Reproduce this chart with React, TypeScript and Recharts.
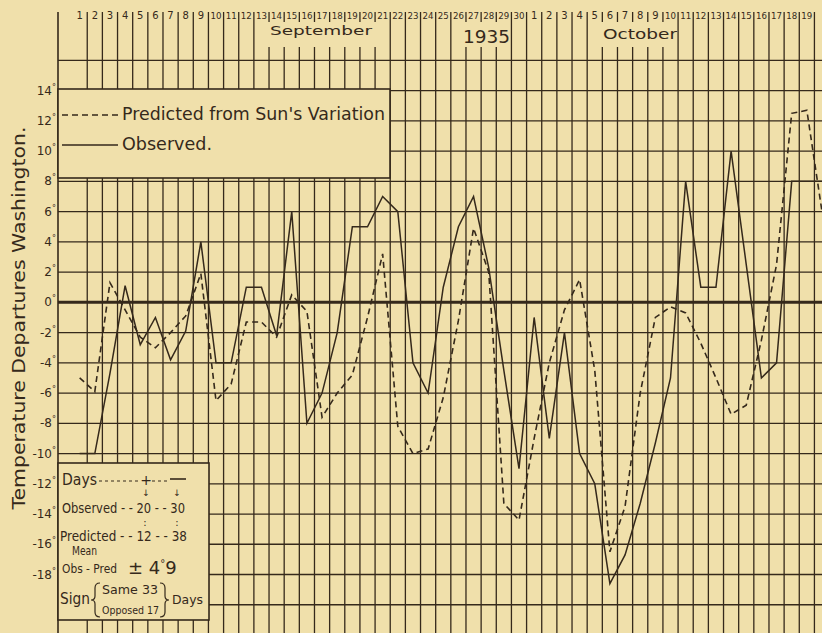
import React from "react";
import { LineChart, Line, XAxis, YAxis, ReferenceLine } from "recharts";

// Temperature departures at Washington, Sept 1 – Oct 20, 1935 (°F)
const septemberDays = [1, 2, 3, 4, 5, 6, 7, 8, 9, 10, 11, 12, 13, 14, 15, 16, 17, 18, 19, 20, 21, 22, 23, 24, 25, 26, 27, 28, 29, 30];
const octoberDays = [1, 2, 3, 4, 5, 6, 7, 8, 9, 10, 11, 12, 13, 14, 15, 16, 17, 18, 19, 20];

const observedSept = [-10, -10, -4.7, 1.1, -2.8, -1, -3.8, -1.9, 4, -4, -4, 1, 1, -2.2, 6, -8, -6, -2, 5, 5, 7, 6, -4, -6, 1, 5, 7, 2.3, -4.5, -11];
const observedOct = [-1, -9, -2, -10, -12, -18.6, -16.7, -13.3, -9.3, -5, 8, 1, 1, 10, 2.5, -5, -4, 8, 8, 8];

const predictedSept = [-5, -5.9, 1.3, -0.5, -2.3, -3, -2, -0.9, 1.9, -6.5, -5.4, -1.3, -1.3, -2.3, 0.5, -0.6, -7.6, -6, -4.8, -1, 3.2, -8.2, -10, -9.7, -6.3, -1.2, 4.9, 2, -13.3, -14.4];
const predictedOct = [-9, -4, -0.5, 1.5, -4.5, -16.5, -13.5, -6, -1, -0.3, -0.7, -2.7, -5, -7.4, -6.8, -2.5, 2.5, 12.5, 12.7, 6];

const tempTicks = [-18, -16, -14, -12, -10, -8, -6, -4, -2, 0, 2, 4, 6, 8, 10, 12, 14];
const gridTemps = [-20, -18, -16, -14, -12, -10, -8, -6, -4, -2, 0, 2, 4, 6, 8, 10, 12, 14, 16];

const days = [...septemberDays, ...octoberDays];
const observed = [...observedSept, ...observedOct];
const predicted = [...predictedSept, ...predictedOct];

const data = days.map((d, i) => ({ i, day: d, obs: observed[i], pred: predicted[i] }));
// the last (Oct 20) column is cut off by the page edge, so it gets no label / right border
const labelTicks = data.slice(0, -1).map((d) => d.i);
const dayBorders = labelTicks.map((i) => i + 0.5);

const BG = "#f0e0ab";
const INK = "#35291b";
const FONT = "'DejaVu Sans', sans-serif";
const W = 822;
const H = 635;

function DayTick({ x, payload }: any) {
  const label = String(days[payload.value]);
  return (
    <text
      x={x}
      y={19}
      textAnchor="middle"
      fontSize={label.length > 1 ? 9 : 10}
      fill={INK}
      fontFamily={FONT}
      textLength={label.length > 1 ? 11 : undefined}
      lengthAdjust="spacingAndGlyphs"
    >
      {label}
    </text>
  );
}

function TempTick({ x, y, payload }: any) {
  return (
    <text x={x} y={y} dy={4} textAnchor="end" fontSize={12} fill={INK} fontFamily={FONT}>
      {payload.value}
      <tspan fontSize={8} dy={-5}>°</tspan>
    </text>
  );
}

export default function App() {
  return (
    <div style={{ position: "absolute", left: 0, top: 0, width: W, height: H, background: BG, overflow: "hidden" }}>
      <LineChart width={W} height={H} data={data} margin={{ top: 0, right: 0, bottom: 0, left: 0 }}>
        <XAxis
          dataKey="i"
          type="number"
          orientation="top"
          domain={[-1.43, 49]}
          allowDataOverflow
          ticks={labelTicks}
          interval={0}
          height={12}
          tick={<DayTick />}
          tickLine={false}
          axisLine={false}
        />
        <YAxis
          type="number"
          domain={[-22, 19.2]}
          allowDataOverflow
          ticks={tempTicks}
          interval={0}
          width={58}
          tick={<TempTick />}
          tickLine={false}
          tickSize={0}
          tickMargin={2}
          axisLine={{ stroke: INK, strokeWidth: 1.6 }}
        />
        {gridTemps.map((t) => (
          <ReferenceLine key={"h" + t} y={t} stroke={INK} strokeWidth={t === 0 ? 3 : 1.3} />
        ))}
        {dayBorders.map((b) => (
          <ReferenceLine key={"v" + b} x={b} stroke={INK} strokeWidth={1.3} />
        ))}
        <Line
          type="linear"
          dataKey="pred"
          stroke={INK}
          strokeWidth={1.6}
          strokeDasharray="6 4"
          dot={false}
          isAnimationActive={false}
        />
        <Line type="linear" dataKey="obs" stroke={INK} strokeWidth={1.5} dot={false} isAnimationActive={false} />
      </LineChart>

      <svg width={W} height={H} style={{ position: "absolute", left: 0, top: 0, pointerEvents: "none" }}>
        {/* month / year heading */}
        <rect x={266} y={22} width={117} height={25} fill={BG} />
        <rect x={456} y={22} width={51} height={25} fill={BG} />
        <rect x={596} y={22} width={76} height={25} fill={BG} />
        <g fill={INK} fontFamily={FONT}>
          <text x={270} y={35} fontSize={13} textLength={102} lengthAdjust="spacingAndGlyphs">September</text>
          <text x={463} y={43} fontSize={17} textLength={47} lengthAdjust="spacingAndGlyphs">1935</text>
          <text x={603} y={39} fontSize={14} textLength={74} lengthAdjust="spacingAndGlyphs">October</text>
        </g>

        {/* axis title */}
        <text
          transform="translate(25,318) rotate(-90)"
          textAnchor="middle"
          fontSize={17}
          fill={INK}
          fontFamily={FONT}
          textLength={383}
          lengthAdjust="spacingAndGlyphs"
        >
          Temperature Departures Washington.
        </text>

        {/* key */}
        <rect x={58} y={89} width={332} height={89} fill={BG} stroke={INK} strokeWidth={1.6} />
        <line x1={62} x2={118} y1={115} y2={115} stroke={INK} strokeWidth={1.6} strokeDasharray="6 4" />
        <line x1={62} x2={118} y1={145} y2={145} stroke={INK} strokeWidth={1.5} />
        <g fill={INK} fontFamily={FONT}>
          <text x={122} y={120} fontSize={17} textLength={263} lengthAdjust="spacingAndGlyphs">
            Predicted from Sun's Variation
          </text>
          <text x={122} y={150} fontSize={17} textLength={90} lengthAdjust="spacingAndGlyphs">
            Observed.
          </text>
        </g>

        {/* statistics box */}
        <rect x={58} y={463} width={151} height={157} fill={BG} stroke={INK} strokeWidth={1.6} />
        <g fill={INK} fontFamily={FONT}>
          <text x={62} y={485} fontSize={15} textLength={35} lengthAdjust="spacingAndGlyphs">Days</text>
          <text x={146} y={485} fontSize={14} textAnchor="middle">+</text>
          <text x={146} y={496} fontSize={9} textAnchor="middle">↓</text>
          <text x={177} y={496} fontSize={9} textAnchor="middle">↓</text>
          <text x={62} y={513} fontSize={14} textLength={123} lengthAdjust="spacingAndGlyphs">Observed - - 20 - - 30</text>
          <text x={145} y={526} fontSize={10} textAnchor="middle">:</text>
          <text x={177} y={526} fontSize={10} textAnchor="middle">:</text>
          <text x={60} y={541} fontSize={14} textLength={127} lengthAdjust="spacingAndGlyphs">Predicted - - 12 - - 38</text>
          <text x={72} y={555} fontSize={13} textLength={25} lengthAdjust="spacingAndGlyphs">Mean</text>
          <text x={62} y={573} fontSize={12} textLength={55} lengthAdjust="spacingAndGlyphs">Obs - Pred</text>
          <text x={128} y={574} fontSize={18}>
            ± 4<tspan fontSize={10} dy={-7}>°</tspan>
            <tspan dy={7}>9</tspan>
          </text>
          <text x={60} y={604} fontSize={16} textLength={30} lengthAdjust="spacingAndGlyphs">Sign</text>
          <text x={102} y={594} fontSize={12} textLength={56} lengthAdjust="spacingAndGlyphs">Same 33</text>
          <text x={102} y={614} fontSize={10} textLength={57} lengthAdjust="spacingAndGlyphs">Opposed 17</text>
          <text x={172} y={604} fontSize={13} textLength={31} lengthAdjust="spacingAndGlyphs">Days</text>
        </g>
        <g stroke={INK} fill="none" strokeWidth={1.2}>
          <line x1={99} x2={138} y1={481} y2={481} strokeDasharray="3 3" />
          <line x1={152} x2={167} y1={481} y2={481} strokeDasharray="3 3" />
          <line x1={170} x2={186} y1={479} y2={479} strokeWidth={1.6} />
          <path d="M100,583 Q95,583 95,588 L95,596 Q95,600 91,600 Q95,600 95,604 L95,612 Q95,617 100,617" />
          <path d="M160,583 Q165,583 165,588 L165,596 Q165,600 169,600 Q165,600 165,604 L165,612 Q165,617 160,617" />
        </g>
      </svg>
    </div>
  );
}
